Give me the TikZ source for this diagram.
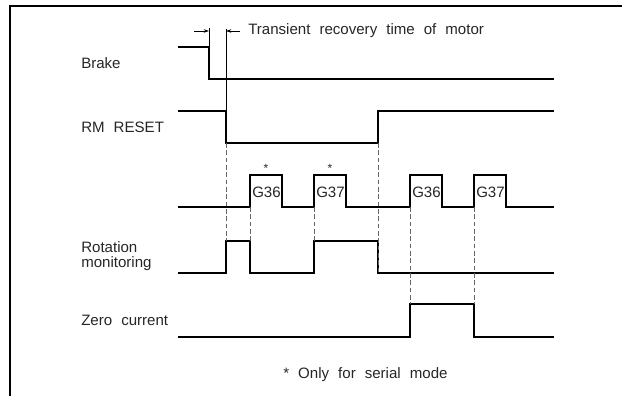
\documentclass[tikz,border=0pt]{standalone}
\usepackage{fontspec}
\setmainfont{Liberation Sans}
\usetikzlibrary{arrows.meta, positioning}
\newcommand\widespaces{\fontdimen2\font=0.6em\relax}

\begin{document}
\begin{tikzpicture}[
    x=0.75pt, y=-0.75pt,
    every node/.style={font=\fontsize{11.3}{11.4}\selectfont, inner sep=0pt, text=black!85},
    signal/.style={line width=1.1pt, line join=miter},
    guide/.style={dash pattern=on 3.5pt off 2pt, black!60, line width=0.5pt},
    dimline/.style={line width=0.45pt},
    dimarrow/.style={-{Stealth[length=4pt, width=2.6pt]}, line width=0.45pt},
    siglabel/.style={anchor=west, align=left}
]
\useasboundingbox (0,0) rectangle (622,396);
% frame
\draw[line width=0.8pt] (10,396) -- (10,6) -- (622,6);

% signal names
\node[siglabel] (brake) at (81,63) {Brake};
\node[siglabel] (reset) at (81,127) {\widespaces RM RESET};
\node[siglabel] (rot) at (81,256) {Rotation\\monitoring};
\node[siglabel] (zero) at (81,320) {\widespaces Zero current};

% transient recovery time
\coordinate (brkfall) at (209,47);
\coordinate (rstfall) at (226,111);
\draw[dimline] (209,28) -- (brkfall);
\draw[dimline] (226,29) -- (rstfall);
\draw[dimarrow] (194,31) -- (209,31);
\draw[dimarrow] (240,31) -- (226,31);
\node[anchor=west] (recov) at (248,31) {\widespaces Transient recovery time of motor};

% waveforms
\draw[signal] (178,47) -- (brkfall) -- (209,79) -- (554,79);
\draw[signal] (178,111) -- (rstfall) -- (226,143) -- (378,143) -- (378,111) -- (554,111);
\draw[signal] (178,207)
  \foreach \x in {250,314,410,474} { -- (\x,207) -- (\x,175) -- (\x+32,175) -- (\x+32,207) }
  -- (554,207);
\draw[signal] (178,273) -- (226,273) -- (226,241) -- (250,241) -- (250,273)
  -- (314,273) -- (314,241) -- (378,241) -- (378,273) -- (554,273);
\draw[signal] (178,337) -- (410,337) -- (410,304) -- (474,304) -- (474,337) -- (554,337);

% pulse names
\foreach \x/\g in {250/G36, 314/G37, 410/G36, 474/G37}
  \node[anchor=west] (g\x) at (\x+2,192) {\g};
\node (star1) at (266,168) {\fontsize{9}{9}\selectfont *};
\node (star2) at (330,168) {\fontsize{9}{9}\selectfont *};

% timing guides
\draw[guide] (226,143) -- (226,241);
\draw[guide] (250,207) -- (250,241);
\draw[guide] (314,207) -- (314,241);
\draw[guide] (378,143) -- (378,273);
\draw[guide] (410,207) -- (410,304);
\draw[guide] (474,207) -- (474,304);

\node[anchor=west] (note) at (283,375) {\widespaces * Only for serial mode};
\end{tikzpicture}
\end{document}
